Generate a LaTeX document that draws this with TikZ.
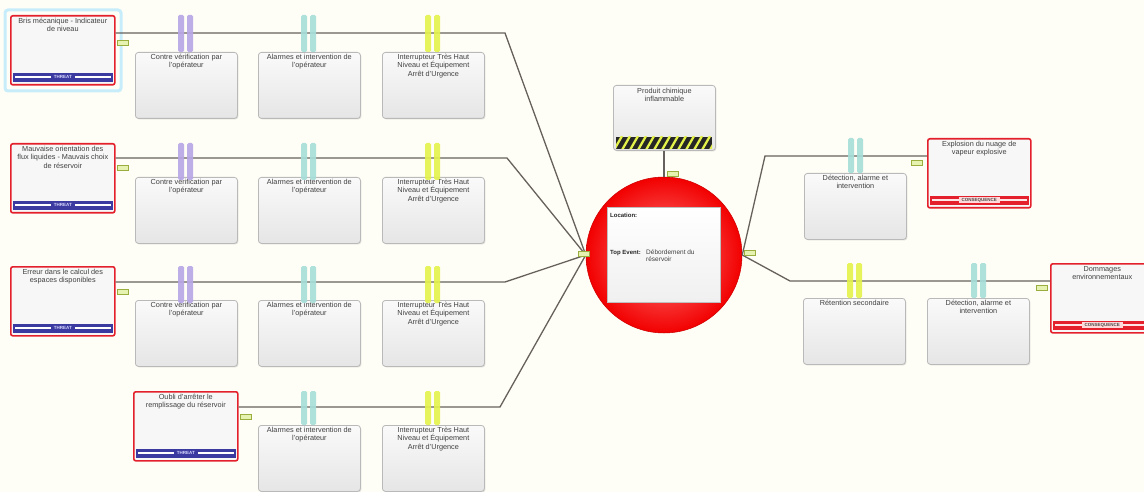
\documentclass[tikz,border=0pt]{standalone}
\usepackage{fontspec}
\setmainfont{Liberation Sans}
\usetikzlibrary{shadows}
\definecolor{bg}{HTML}{FFFEF6}
\definecolor{tred}{HTML}{E3202C}
\definecolor{tblue}{HTML}{3A3AA0}
\definecolor{cpurple}{HTML}{B8A6E6}
\definecolor{ccyan}{HTML}{A6DED8}
\definecolor{cyellow}{HTML}{E4F24A}
\definecolor{tagfill}{HTML}{E6F2B0}
\definecolor{tagdraw}{HTML}{9AAE40}
\definecolor{wirec}{HTML}{66615C}
\newcommand\mkbarrier[3]{%
  \node[barrierbox] (#1) at (#2) {};
  \node[boxtext] (#1txt) at ([yshift=-2pt]#1.north) {#3};}
\newcommand\mkthreat[3]{%
  \node[threatbox] (#1) at (#2) {};
  \node[boxtext] (#1txt) at ([yshift=-3pt]#1.north) {#3};
  \fill[tblue] ([xshift=3pt,yshift=13pt]#1.south west) rectangle ([xshift=-3pt,yshift=4pt]#1.south east);
  \draw[white, line width=1.6pt] ([xshift=5pt,yshift=8.5pt]#1.south west) -- ([xshift=-5pt,yshift=8.5pt]#1.south east);
  \node[footlab, fill=tblue, text=white!85!blue] (#1foot) at ([yshift=8.5pt]#1.south) {THREAT};}
\newcommand\mkcons[3]{%
  \node[consbox] (#1) at (#2) {};
  \node[boxtext] (#1txt) at ([yshift=-3pt]#1.north) {#3};
  \fill[tred] ([xshift=3pt,yshift=13pt]#1.south west) rectangle ([xshift=-3pt,yshift=4pt]#1.south east);
  \draw[white!90!red, line width=1.6pt] ([xshift=5pt,yshift=8.5pt]#1.south west) -- ([xshift=-5pt,yshift=8.5pt]#1.south east);
  \node[footlab, fill=white!85!red, text=black!70] (#1foot) at ([yshift=8.5pt]#1.south) {CONSEQUENCE};}
\newcommand\mkclip[4]{%
  \fill[#4, opacity=0.9, rounded corners=1.5pt] (#1,#2) rectangle ++(6,#3);
  \fill[#4, opacity=0.9, rounded corners=1.5pt] (#1+9,#2) rectangle ++(6,#3);}
\newcommand\mktag[2]{%
  \draw[tagdraw, fill=tagfill, line width=0.4pt] (#1,#2) rectangle ++(11,5);}
\begin{document}
\begin{tikzpicture}[x=1pt,y=-1pt,
  every node/.style={font=\fontsize{7.3}{8.3}\selectfont, text=black!75},
  wire/.style={draw=wirec, line width=1.3pt},
  boxtext/.style={anchor=north, align=center, inner sep=0pt},
  footlab/.style={inner xsep=3pt, inner ysep=0.8pt, font=\fontsize{4.5}{4.5}\selectfont\bfseries},
  threatbox/.style={rectangle, anchor=north west, draw=tred, line width=1.6pt, rounded corners=2pt,
    fill=gray!6, minimum width=104pt, minimum height=69pt, inner sep=0pt},
  consbox/.style={threatbox, minimum width=103pt},
  barrierbox/.style={rectangle, anchor=north west, draw=gray!55, line width=0.8pt, rounded corners=3pt,
    top color=gray!4, bottom color=gray!20, minimum width=102pt, minimum height=66pt, inner sep=0pt,
    drop shadow={shadow xshift=1pt, shadow yshift=-1pt, opacity=0.25}},
  topevent/.style={circle, inner sep=0pt, minimum size=156pt, draw=red!80!black, line width=0.5pt,
    inner color=red!50!white, outer color=red!95!black}
]
\useasboundingbox (0,0) rectangle (1144,492);
\clip (0,0) rectangle (1144,492);
\fill[bg] (0,0) rectangle (1144,492);

% coordinates of line corners
\coordinate (k1) at (505,33);
\coordinate (k2) at (507,158);
\coordinate (k3) at (505,282);
\coordinate (k4) at (500,407);
\coordinate (r1) at (765,156);
\coordinate (r2) at (790,281);

% top event
\node[topevent] (top) at (664,255) {};

% threats
\draw[cyan!22, line width=3pt, rounded corners=3pt] (5,10) rectangle (121,91);
\mkthreat{t1}{10,15}{Bris mécanique - Indicateur\\de niveau}
\mkthreat{t2}{10,143}{Mauvaise orientation des\\flux liquides - Mauvais choix\\de réservoir}
\mkthreat{t3}{10,266}{Erreur dans le calcul des\\espaces disponibles}
\mkthreat{t4}{133,391}{Oubli d'arrêter le\\remplissage du réservoir}

% wires left
\draw[wire] (t1.east |- k1) -- (k1) -- (top.west);
\draw[wire] (t2.east |- k2) -- (k2) -- (top.west);
\draw[wire] (t3.east |- k3) -- (k3) -- (top.west);
\draw[wire] (t4.east |- k4) -- (k4) -- (top.west);

% barriers left
\mkbarrier{b11}{135,52}{Contre vérification par\\l'opérateur}
\mkbarrier{b12}{258,52}{Alarmes et intervention de\\l'opérateur}
\mkbarrier{b13}{382,52}{Interrupteur Très Haut\\Niveau et Équipement\\Arrêt d'Urgence}
\mkbarrier{b21}{135,177}{Contre vérification par\\l'opérateur}
\mkbarrier{b22}{258,177}{Alarmes et intervention de\\l'opérateur}
\mkbarrier{b23}{382,177}{Interrupteur Très Haut\\Niveau et Équipement\\Arrêt d'Urgence}
\mkbarrier{b31}{135,300}{Contre vérification par\\l'opérateur}
\mkbarrier{b32}{258,300}{Alarmes et intervention de\\l'opérateur}
\mkbarrier{b33}{382,300}{Interrupteur Très Haut\\Niveau et Équipement\\Arrêt d'Urgence}
\mkbarrier{b42}{258,425}{Alarmes et intervention de\\l'opérateur}
\mkbarrier{b43}{382,425}{Interrupteur Très Haut\\Niveau et Équipement\\Arrêt d'Urgence}

% clips left
\foreach \yy in {15,143,266} {
  \mkclip{178}{\yy}{37}{cpurple}
  \mkclip{301}{\yy}{37}{ccyan}
  \mkclip{425}{\yy}{37}{cyellow}
}
\mkclip{301}{391}{34}{ccyan}
\mkclip{425}{391}{34}{cyellow}

% hazard
\node[barrierbox, minimum height=65pt] (haz) at (613,85) {};
\node[boxtext] (haztxt) at ([yshift=-3pt]haz.north) {Produit chimique\\inflammable};
\begin{scope}
  \clip (616,137) rectangle (712,149);
  \fill[black!85] (616,137) rectangle (712,149);
  \foreach \i in {0,...,14} {
    \draw[cyellow, line width=2.3pt] (606+\i*8,150) -- (614+\i*8,136);
  }
\end{scope}
\draw[wire] (top.north |- haz.south) -- (top.north);

% top event inner box
\node[rectangle, anchor=north west, draw=gray!50, top color=white, bottom color=gray!12,
  minimum width=113pt, minimum height=95pt, inner sep=0pt] (topbox) at (607,207) {};
\node[anchor=west, inner sep=0pt, font=\fontsize{6}{7}\selectfont\bfseries, text=black!85] (loclab) at ([xshift=3pt,yshift=-8pt]topbox.north west) {Location:};
\node[anchor=west, inner sep=0pt, font=\fontsize{6}{7}\selectfont\bfseries, text=black!85] (telab) at ([xshift=3pt,yshift=-46pt]topbox.north west) {Top Event:};
\node[anchor=north west, inner sep=0pt, align=left, font=\fontsize{6.5}{7.5}\selectfont] (tetxt) at ([xshift=39pt,yshift=-42.5pt]topbox.north west) {Débordement du\\réservoir};

% right side
\mkcons{c1}{927,138}{Explosion du nuage de\\vapeur explosive}
\mkcons{c2}{1050,263}{Dommages\\environnementaux}
\draw[wire] (top.east) -- (r1) -- (c1.west |- r1);
\draw[wire] (top.east) -- (r2) -- (c2.west |- r2);
\mkbarrier{rb1}{804,173}{Détection, alarme et\\intervention}
\mkbarrier{rb2}{803,298}{Rétention secondaire}
\mkbarrier{rb3}{927,298}{Détection, alarme et\\intervention}
\mkclip{848}{138}{35}{ccyan}
\mkclip{847}{263}{35}{cyellow}
\mkclip{971}{263}{35}{ccyan}

% small tags
\mktag{117}{40}
\mktag{117}{165}
\mktag{117}{289}
\mktag{240}{414}
\mktag{667}{171}
\mktag{578}{251}
\mktag{744}{250}
\mktag{911}{160}
\mktag{1036}{285}
\end{tikzpicture}
\end{document}
